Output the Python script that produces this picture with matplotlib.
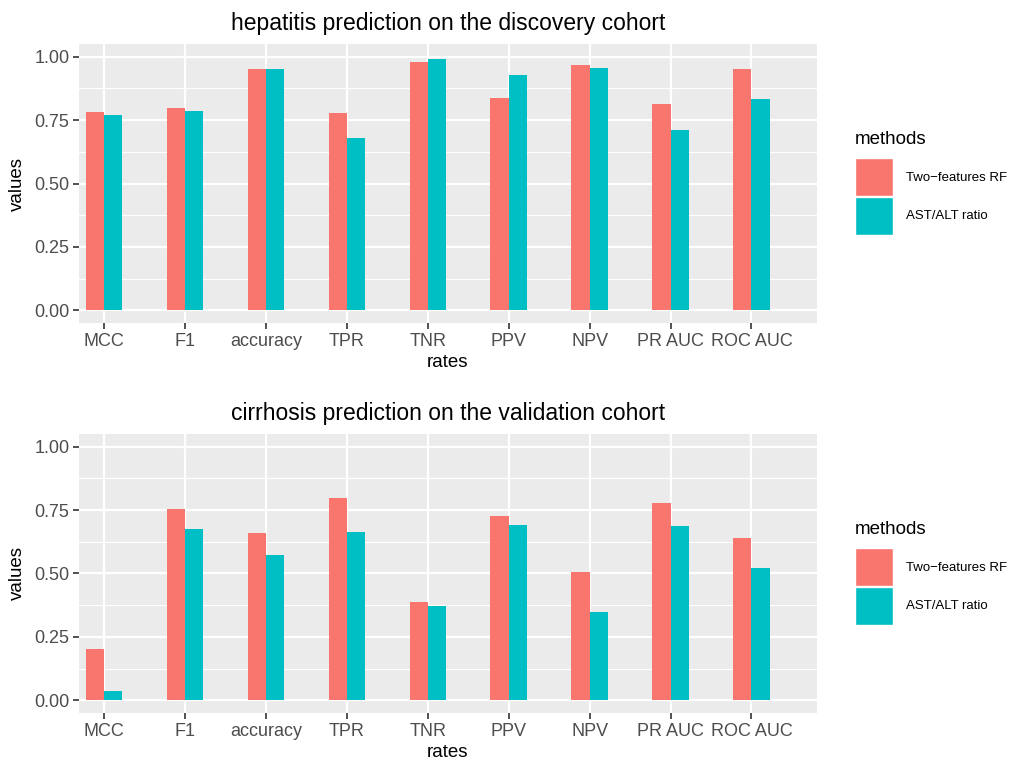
import numpy as np
import matplotlib
matplotlib.use("Agg")
import matplotlib.pyplot as plt
from matplotlib.patches import Patch

# data
rates = ["MCC", "F1", "accuracy", "TPR", "TNR", "PPV", "NPV", "PR AUC", "ROC AUC"]
methods = ["Two\u2212features RF", "AST/ALT ratio"]

hep_rf = [0.782, 0.797, 0.951, 0.778, 0.979, 0.837, 0.967, 0.813, 0.951]
hep_ratio = [0.770, 0.786, 0.951, 0.679, 0.991, 0.928, 0.955, 0.711, 0.833]

cir_rf = [0.203, 0.753, 0.658, 0.797, 0.389, 0.726, 0.504, 0.777, 0.639]
cir_ratio = [0.037, 0.674, 0.571, 0.662, 0.373, 0.690, 0.350, 0.686, 0.520]

titles = ["hepatitis prediction on the discovery cohort",
          "cirrhosis prediction on the validation cohort"]

RED = "#F8766D"
TEAL = "#00BFC4"

plt.rcParams['font.family'] = ['Liberation Sans', 'DejaVu Sans']

fig = plt.figure(figsize=(10.1, 7.64), dpi=100)

ax_top = fig.add_axes([0.0782, 0.5772, 0.7307, 0.3652])
ax_bot = fig.add_axes([0.0782, 0.0668, 0.7307, 0.3652])
# (axes, rf values, ratio values, title, legend key top, legend title y)
panels = [
    (ax_top, hep_rf, hep_ratio, titles[0], 0.7932, 0.8168),
    (ax_bot, cir_rf, cir_ratio, titles[1], 0.2827, 0.3063),
]

w = 0.225
x = np.arange(len(rates))

for ax, rf, ratio, title, leg_y, title_y in panels:
    ax.set_facecolor("#EBEBEB")
    ax.bar(x - w, rf, width=w, align="edge", color=RED, zorder=3)
    ax.bar(x, ratio, width=w, align="edge", color=TEAL, zorder=3)

    ax.set_xlim(-0.309, 8.81)
    ax.set_ylim(-0.05, 1.05)
    ax.set_xticks(x)
    ax.set_xticklabels(rates)
    ax.set_yticks([0, 0.25, 0.5, 0.75, 1.0])
    ax.set_yticklabels(["0.00", "0.25", "0.50", "0.75", "1.00"])
    ax.set_yticks([0.125, 0.375, 0.625, 0.875], minor=True)

    ax.grid(which="major", color="white", linewidth=1.6, zorder=1)
    ax.grid(which="minor", axis="y", color="white", linewidth=0.8, zorder=1)
    ax.set_axisbelow(True)
    for s in ax.spines.values():
        s.set_visible(False)
    ax.tick_params(axis="both", which="major", length=4, width=1.2, color="#333333",
                   labelcolor="#4D4D4D", labelsize=13, pad=3)
    ax.tick_params(axis="both", which="minor", length=0)

    ax.set_xlabel("rates", fontsize=13.5, labelpad=3)
    ax.set_ylabel("values", fontsize=13.5, labelpad=6)
    ax.set_title(title, fontsize=16.5, pad=10)

    # legend, title drawn separately to get the ggplot gap
    handles = [Patch(facecolor=RED, edgecolor="white", linewidth=1.0),
               Patch(facecolor=TEAL, edgecolor="white", linewidth=1.0)]
    fig.legend(handles, methods, loc="upper left",
               bbox_to_anchor=(0.8465, leg_y), frameon=False,
               fontsize=9.5, handlelength=2.9,
               handleheight=4.1, handletextpad=1.0, labelspacing=0.02,
               borderaxespad=0, borderpad=0)
    fig.text(0.8465, title_y, "methods", fontsize=13.5, ha="left", va="center")

fig.savefig("out.png", dpi=100)
